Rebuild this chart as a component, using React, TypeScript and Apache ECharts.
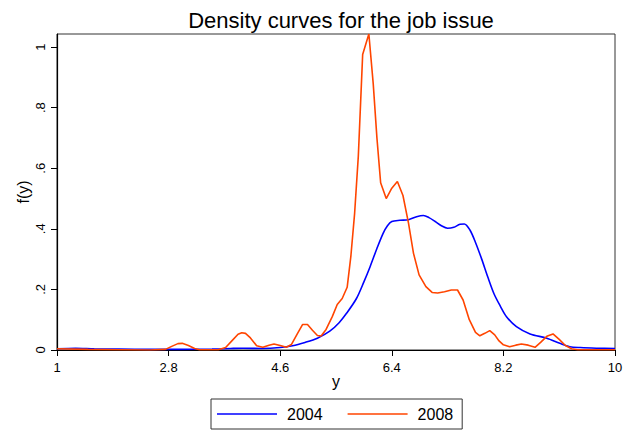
import React, { useEffect, useRef } from "react";
import * as echarts from "echarts";

const titleText = "Density curves for the job issue";
const seriesNames = ["2004", "2008"];

const x2004 = [1.0, 1.3, 1.6, 2.0, 2.5, 3.0, 3.5, 3.8, 4.0, 4.3, 4.6, 4.8, 5.0, 5.2, 5.4, 5.55, 5.67, 5.83, 5.95, 6.05, 6.16, 6.26, 6.33, 6.4, 6.53, 6.67, 6.8, 6.91, 7.0, 7.1, 7.2, 7.3, 7.4, 7.5, 7.57, 7.66, 7.75, 7.85, 7.95, 8.05, 8.15, 8.25, 8.41, 8.63, 8.9, 9.11, 9.27, 9.44, 9.7, 10.0];
const y2004 = [0.004, 0.006, 0.004, 0.003, 0.002, 0.002, 0.003, 0.005, 0.006, 0.005, 0.008, 0.014, 0.025, 0.039, 0.062, 0.09, 0.121, 0.17, 0.225, 0.275, 0.335, 0.385, 0.41, 0.424, 0.428, 0.43, 0.44, 0.444, 0.437, 0.424, 0.41, 0.402, 0.405, 0.415, 0.416, 0.396, 0.355, 0.3, 0.24, 0.185, 0.145, 0.11, 0.077, 0.053, 0.039, 0.022, 0.011, 0.008, 0.006, 0.005];

const x2008 = [1.0, 1.5, 2.0, 2.5, 2.75, 2.85, 2.95, 3.02, 3.12, 3.22, 3.3, 3.6, 3.72, 3.82, 3.92, 3.98, 4.04, 4.12, 4.22, 4.32, 4.42, 4.5, 4.6, 4.7, 4.78, 4.88, 4.96, 5.04, 5.12, 5.2, 5.26, 5.34, 5.44, 5.52, 5.6, 5.68, 5.74, 5.8, 5.86, 5.93, 6.03, 6.1, 6.16, 6.22, 6.31, 6.4, 6.49, 6.58, 6.67, 6.75, 6.84, 6.95, 7.05, 7.14, 7.25, 7.36, 7.46, 7.55, 7.65, 7.75, 7.82, 7.9, 7.98, 8.06, 8.13, 8.2, 8.3, 8.4, 8.49, 8.6, 8.71, 8.8, 8.9, 9.0, 9.1, 9.2, 9.3, 9.4, 10.0];
const y2008 = [0.004, 0.002, 0.001, 0.0, 0.002, 0.012, 0.021, 0.022, 0.015, 0.005, 0.001, 0.001, 0.008, 0.03, 0.052, 0.057, 0.055, 0.04, 0.014, 0.009, 0.016, 0.02, 0.015, 0.009, 0.018, 0.055, 0.084, 0.084, 0.065, 0.048, 0.046, 0.068, 0.11, 0.15, 0.17, 0.207, 0.31, 0.45, 0.64, 0.975, 1.043, 0.88, 0.7, 0.552, 0.5, 0.534, 0.556, 0.51, 0.418, 0.319, 0.248, 0.209, 0.19, 0.188, 0.192, 0.198, 0.198, 0.165, 0.1, 0.058, 0.047, 0.055, 0.064, 0.05, 0.03, 0.017, 0.011, 0.016, 0.02, 0.016, 0.009, 0.025, 0.045, 0.053, 0.035, 0.015, 0.004, 0.001, 0.001];

const xTicks = [1, 2.8, 4.6, 6.4, 8.2, 10];
const yTicks = [0, 0.2, 0.4, 0.6, 0.8, 1];

const colors = ["#0000ff", "#ff4500"];
const FONT = "'Liberation Sans', Arial, Helvetica, sans-serif";

function fmtY(v: number): string {
  if (v === 0) return "0";
  if (v === 1) return "1";
  return String(Math.round(v * 10) / 10).replace(/^0/, "");
}

export default function App() {
  const ref = useRef<HTMLDivElement>(null);
  useEffect(() => {
    document.body.style.margin = "0";
    if (!ref.current) return;
    const chart = echarts.init(ref.current, null, { renderer: "svg" });
    const pairs = (xs: number[], ys: number[]) => xs.map((x, i) => [x, ys[i]]);
    chart.setOption({
      animation: false,
      backgroundColor: "#ffffff",
      textStyle: { fontFamily: FONT, color: "#000" },
      title: {
        text: titleText,
        left: 336,
        textAlign: "center",
        top: 4,
        textStyle: { fontFamily: FONT, fontSize: 22, fontWeight: "normal", color: "#000" },
      },
      grid: {
        left: 57,
        right: 23,
        top: 34,
        bottom: 85,
        show: true,
        borderColor: "#333",
        borderWidth: 1,
        backgroundColor: "#fff",
      },
      legend: {
        data: seriesNames.map((n) => ({ name: n, icon: "rect" })),
        left: 211,
        top: 399,
        orient: "horizontal",
        padding: [7, 9, 7, 6],
        itemGap: 25,
        itemWidth: 60,
        itemHeight: 1.6,
        borderColor: "#333",
        borderWidth: 1,
        textStyle: { fontFamily: FONT, fontSize: 16, color: "#000", padding: [0, 0, 0, 5] },
      },
      xAxis: {
        type: "value",
        min: 1,
        max: 10,
        name: "y",
        nameLocation: "middle",
        nameGap: 23,
        nameMoveOverlap: false,
        nameTextStyle: { fontFamily: FONT, fontSize: 16, color: "#000" },
        axisLine: { show: true, onZero: false, lineStyle: { color: "#000", width: 1.2 } },
        axisTick: { show: true, length: 6, customValues: xTicks, lineStyle: { color: "#000" } },
        axisLabel: { customValues: xTicks, fontFamily: FONT, fontSize: 13, color: "#000", margin: 11, formatter: (v: number) => String(v) },
        splitLine: { show: false },
      },
      yAxis: {
        type: "value",
        min: 0,
        max: "dataMax",
        name: "f(y)",
        nameLocation: "middle",
        nameGap: 26,
        nameMoveOverlap: false,
        nameRotate: 90,
        nameTextStyle: { fontFamily: FONT, fontSize: 16, color: "#000" },
        axisLine: { show: true, lineStyle: { color: "#000", width: 1.2 } },
        axisTick: { show: true, length: 6, customValues: yTicks, lineStyle: { color: "#000" } },
        axisLabel: { customValues: yTicks, rotate: 90, fontFamily: FONT, fontSize: 13, color: "#000", margin: 10, formatter: fmtY },
        splitLine: { show: false },
      },
      series: [
        {
          name: seriesNames[0],
          type: "line",
          data: pairs(x2004, y2004),
          symbol: "none",
          smooth: 0.3,
          lineStyle: { color: colors[0], width: 1.6 },
          itemStyle: { color: colors[0] },
          z: 2,
        },
        {
          name: seriesNames[1],
          type: "line",
          data: pairs(x2008, y2008),
          symbol: "none",
          smooth: false,
          lineStyle: { color: colors[1], width: 1.6 },
          itemStyle: { color: colors[1] },
          z: 3,
        },
      ],
    });
    return () => chart.dispose();
  }, []);
  return <div ref={ref} style={{ width: 638, height: 435 }} />;
}
